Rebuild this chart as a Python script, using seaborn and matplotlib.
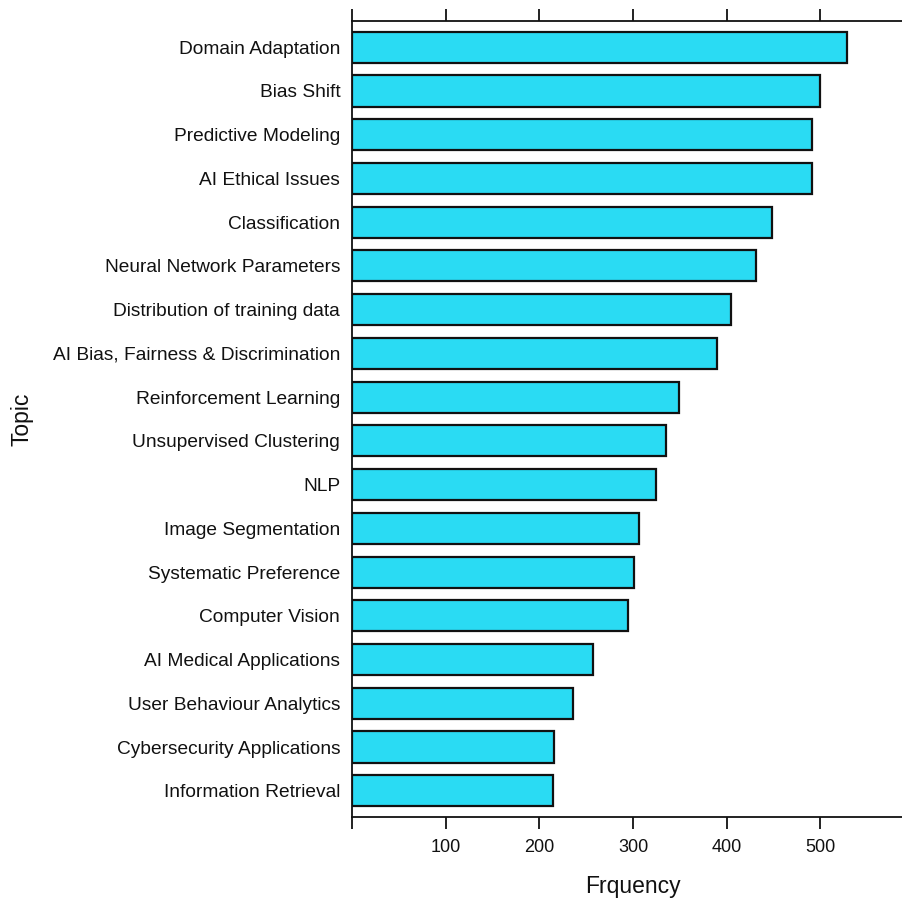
import matplotlib
matplotlib.use("Agg")
import matplotlib.pyplot as plt
import seaborn as sns
import pandas as pd

topics = [
    "Domain Adaptation", "Bias Shift", "Predictive Modeling", "AI Ethical Issues",
    "Classification", "Neural Network Parameters", "Distribution of training data",
    "AI Bias, Fairness & Discrimination", "Reinforcement Learning",
    "Unsupervised Clustering", "NLP", "Image Segmentation", "Systematic Preference",
    "Computer Vision", "AI Medical Applications", "User Behaviour Analytics",
    "Cybersecurity Applications", "Information Retrieval",
]
frequency = [528, 500, 491, 491, 448, 431, 405, 390, 349, 335, 324, 306, 301, 295,
             257, 236, 216, 215]
x_ticks = [0, 100, 200, 300, 400, 500]
x_tick_labels = ["", "100", "200", "300", "400", "500"]

df = pd.DataFrame({"Topic": topics, "Frquency": frequency})

sns.set_style("white")
plt.rcParams["font.family"] = ["Liberation Sans", "DejaVu Sans"]
plt.rcParams["text.color"] = "#111111"
plt.rcParams["axes.labelcolor"] = "#111111"
plt.rcParams["xtick.color"] = "#111111"
plt.rcParams["ytick.color"] = "#111111"

fig = plt.figure(figsize=(9.02, 9.0), dpi=100)
ax = fig.add_axes([352 / 902, 83 / 900, 550 / 902, 796 / 900])

sns.barplot(data=df, x="Frquency", y="Topic", order=topics, color="#2ADBF3",
            saturation=1, width=0.71, edgecolor="#111111", linewidth=1.6, ax=ax)

ax.set_xlim(0, 587)
ax.set_ylim(17.6, -0.6)
ax.set_xticks(x_ticks)
ax.set_xticklabels(x_tick_labels)
ax.tick_params(axis="x", which="both", top=True, bottom=True, labeltop=False,
               direction="out", length=8.5, width=1.3, color="#111111",
               labelsize=13, pad=7)
ax.tick_params(axis="y", left=False, length=0, labelsize=13.8, pad=8.5)

for side in ["left", "bottom", "top"]:
    ax.spines[side].set_visible(True)
    ax.spines[side].set_color("#111111")
    ax.spines[side].set_linewidth(1.3)
ax.spines["right"].set_visible(False)

ax.set_xlabel("Frquency", fontsize=16.5)
ax.set_ylabel("Topic", fontsize=16.5)
ax.xaxis.set_label_coords(0.511, -0.087)
ax.yaxis.set_label_coords(-0.60, 0.5)
ax.xaxis.label.set_va("center")
ax.yaxis.label.set_va("center")

fig.savefig("out.png", dpi=100, facecolor="white")
